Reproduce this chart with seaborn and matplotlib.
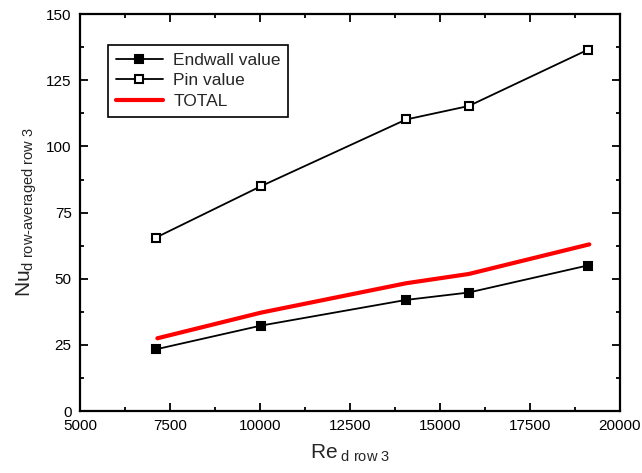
import matplotlib
matplotlib.use("Agg")
import matplotlib.pyplot as plt
import seaborn as sns
import pandas as pd
from matplotlib.ticker import MultipleLocator

re_pin = [7100, 10030, 14060, 15800, 19100]
pin_value = [65.5, 85.0, 110.2, 115.3, 136.5]
re_endwall = [7100, 10030, 14060, 15800, 19100]
endwall_value = [23.3, 32.3, 42.0, 44.8, 55.0]
re_total = [7150, 10030, 14060, 15800, 19150]
total_value = [27.5, 37.2, 48.3, 51.8, 63.0]

sns.set_style("ticks")
plt.rcParams['font.family'] = ['Liberation Sans', 'DejaVu Sans']
plt.rcParams['mathtext.fontset'] = 'custom'
plt.rcParams['mathtext.rm'] = 'Liberation Sans'
plt.rcParams['mathtext.it'] = 'Liberation Sans'

fig = plt.figure(figsize=(6.42, 4.73), dpi=100)
ax = fig.add_axes([0.1246, 0.131, 0.841, 0.839])

df_e = pd.DataFrame({"x": re_endwall, "y": endwall_value})
df_p = pd.DataFrame({"x": re_pin, "y": pin_value})
df_t = pd.DataFrame({"x": re_total, "y": total_value})

sns.lineplot(data=df_e, x="x", y="y", ax=ax, color="black", lw=1.3,
             marker="s", markersize=6, markerfacecolor="black",
             markeredgecolor="black", markeredgewidth=1.5, label="Endwall value")
sns.lineplot(data=df_p, x="x", y="y", ax=ax, color="black", lw=1.3,
             marker="s", markersize=6, markerfacecolor="white",
             markeredgecolor="black", markeredgewidth=1.5, label="Pin value")
sns.lineplot(data=df_t, x="x", y="y", ax=ax, color="#ff0000", lw=3,
             label="TOTAL")

ax.set_xlim(5000, 20000)
ax.set_ylim(0, 150)
ax.xaxis.set_major_locator(MultipleLocator(2500))
ax.xaxis.set_minor_locator(MultipleLocator(1250))
ax.yaxis.set_major_locator(MultipleLocator(25))
ax.yaxis.set_minor_locator(MultipleLocator(12.5))
ax.tick_params(which='both', direction='in', top=True, right=True,
               labelsize=11, width=1.3, colors='black', pad=6)
ax.tick_params(which='major', length=6)
ax.tick_params(which='minor', length=3)
for s in ax.spines.values():
    s.set_linewidth(1.6)
    s.set_color('black')
    s.set_visible(True)

ax.set_xlabel(r'Re$_{\text{ d row 3}}$', fontsize=15, labelpad=7)
ax.set_ylabel(r'Nu$_{\text{d row-averaged row 3}}$', fontsize=15, labelpad=5)

leg = ax.legend(loc='upper left', bbox_to_anchor=(0.052, 0.922), fontsize=12.5,
                frameon=True, fancybox=False, framealpha=1, edgecolor='black',
                handlelength=2.7, borderpad=0.45, labelspacing=0.3,
                handletextpad=0.6, borderaxespad=0)
leg.get_frame().set_linewidth(1.2)

fig.savefig("out.png", dpi=100)
